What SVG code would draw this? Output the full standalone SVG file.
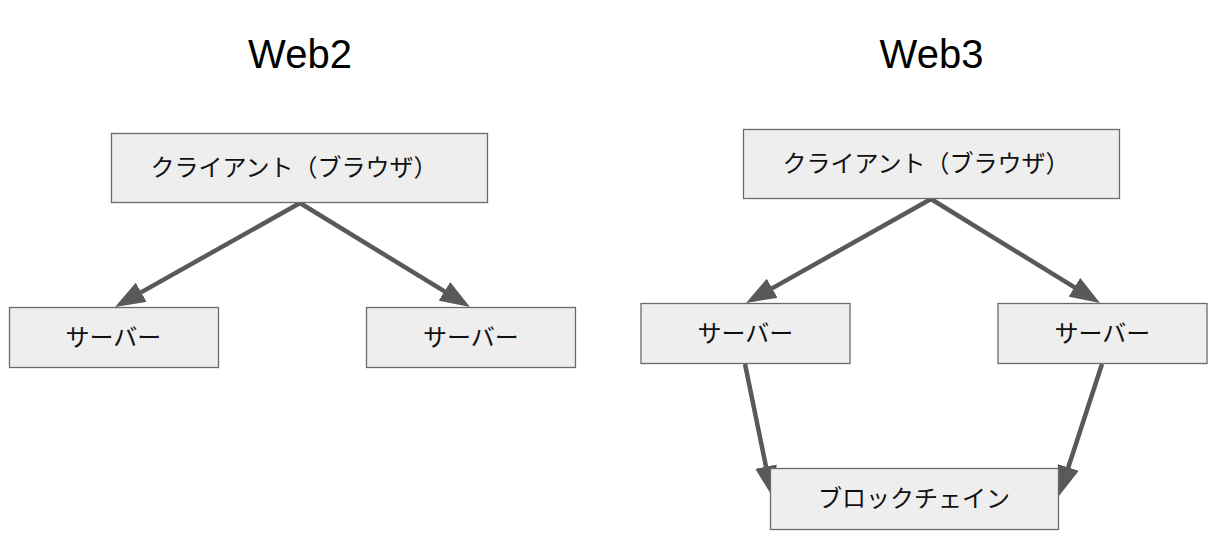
<svg xmlns="http://www.w3.org/2000/svg" width="1226" height="550" viewBox="0 0 1226 550">
<style>
.box{fill:#eeeeee;stroke:#6b6b6b;stroke-width:1.3}
.lbl{font-family:"Noto Sans CJK JP","Liberation Sans",sans-serif;font-size:24px;fill:#111;text-anchor:middle}
.title{font-family:"Liberation Sans",Arial,sans-serif;font-size:40px;fill:#000;text-anchor:middle}
.arr{stroke:#595959;stroke-width:4.5;fill:none;marker-end:url(#ah)}
</style>
<defs>
<marker id="ah" markerUnits="userSpaceOnUse" markerWidth="30" markerHeight="22" refX="15" refY="11" orient="auto" viewBox="0 0 30 22">
<path d="M0,0 L30,11 L0,22 z" fill="#595959"/>
</marker>
</defs>
<rect width="1226" height="550" fill="#fff"/>
<text class="title" x="300" y="68">Web2</text>
<text class="title" x="931.5" y="68">Web3</text>
<g id="connectors">
<line class="arr" x1="300" y1="203" x2="128.1" y2="299.6"/>
<line class="arr" x1="300" y1="203" x2="457.2" y2="299.2"/>
<line class="arr" x1="931" y1="199" x2="759.1" y2="295.6"/>
<line class="arr" x1="931" y1="199" x2="1087.2" y2="295.1"/>
<line class="arr" x1="745" y1="364" x2="769" y2="481.3"/>
<line class="arr" x1="1102" y1="364" x2="1063.6" y2="481.7"/>
</g>
<g id="w2-client"><rect class="box" x="111.5" y="133.5" width="376" height="69"/><text class="lbl" x="294" y="176">クライアント（ブラウザ）</text></g>
<g id="w2-server1"><rect class="box" x="9.5" y="307.5" width="209" height="60"/><text class="lbl" x="113.5" y="346">サーバー</text></g>
<g id="w2-server2"><rect class="box" x="366.5" y="307.5" width="209" height="60"/><text class="lbl" x="471" y="346">サーバー</text></g>
<g id="w3-client"><rect class="box" x="743.5" y="129.5" width="376" height="69"/><text class="lbl" x="926" y="172">クライアント（ブラウザ）</text></g>
<g id="w3-server1"><rect class="box" x="641" y="303.5" width="209" height="60"/><text class="lbl" x="745.5" y="342">サーバー</text></g>
<g id="w3-server2"><rect class="box" x="998" y="303.5" width="209" height="60"/><text class="lbl" x="1102.5" y="342">サーバー</text></g>
<g id="w3-blockchain"><rect class="box" x="770.5" y="468.5" width="288" height="61"/><text class="lbl" x="914" y="507">ブロックチェイン</text></g>
</svg>
